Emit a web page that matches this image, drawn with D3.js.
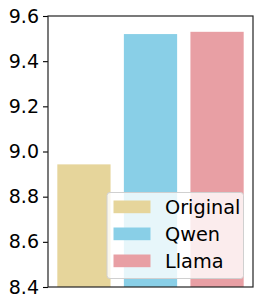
<!DOCTYPE html>
<html lang="en">
<head>
<meta charset="utf-8" />
<script src="https://cdnjs.cloudflare.com/ajax/libs/d3/7.8.5/d3.min.js"></script>
<style>
    body { margin: 0; background: #fff; }
    svg text { font-family: 'DejaVu Sans', sans-serif; fill: #000; }
</style>
</head>
<body>
<div id="chart"></div>
<script>
    // chart data
    var models = ['Original', 'Qwen', 'Llama'];
    var scores = [8.943, 9.520, 9.530];
    var colors = ['#E6D59B', '#89CFE7', '#E89FA4'];
    var yTicks = [8.4, 8.6, 8.8, 9.0, 9.2, 9.4, 9.6];

    var width = 262, height = 308;
    var margins = { top: 16, left: 48, right: 9, bottom: 21 };
    var innerWidth = width - margins.left - margins.right;
    var innerHeight = height - margins.top - margins.bottom;

    var svg = d3.select('#chart').append('svg')
        .attr('width', width)
        .attr('height', height);
    var g = svg.append('g')
        .attr('transform', 'translate(' + margins.left + ',' + margins.top + ')');

    // matplotlib-like positions: bars at 0,1,2 with width 0.8 and 5% margins
    var x = d3.scaleLinear()
        .domain([-0.54, 2.54])
        .range([0, innerWidth]);
    var y = d3.scaleLinear()
        .domain([8.4, 9.6])
        .range([innerHeight, 0]);

    g.selectAll('rect.bar')
        .data(scores)
        .enter()
        .append('rect')
        .attr('class', 'bar')
        .attr('x', function (d, i) { return x(i - 0.4); })
        .attr('width', function (d, i) { return x(i + 0.4) - x(i - 0.4); })
        .attr('y', function (d) { return y(d); })
        .attr('height', function (d) { return innerHeight - y(d); })
        .attr('fill', function (d, i) { return colors[i]; });

    var yAxis = g.append('g')
        .call(d3.axisLeft(y).tickValues(yTicks).tickFormat(d3.format('.1f')).tickSize(5).tickPadding(4));
    yAxis.select('.domain').remove();
    yAxis.selectAll('line').attr('stroke', '#000').attr('stroke-width', 1.1);
    yAxis.selectAll('text').style('font-size', '19px');

    // frame
    g.append('rect')
        .attr('x', 0).attr('y', 0)
        .attr('width', innerWidth).attr('height', innerHeight)
        .attr('fill', 'none')
        .attr('stroke', '#222')
        .attr('stroke-width', 1.2);

    // legend
    var legend = svg.append('g').attr('transform', 'translate(107,192.5)');
    legend.append('rect')
        .attr('width', 136.5).attr('height', 86)
        .attr('rx', 3)
        .attr('fill', 'rgba(255,255,255,0.8)')
        .attr('stroke', '#d0d0d0')
        .attr('stroke-width', 1);
    var items = legend.selectAll('g.item')
        .data(models)
        .enter()
        .append('g')
        .attr('class', 'item')
        .attr('transform', function (d, i) { return 'translate(0,' + (8 + i * 27) + ')'; });
    items.append('rect')
        .attr('x', 6.5).attr('width', 37).attr('height', 12.7)
        .attr('fill', function (d, i) { return colors[i]; });
    items.append('text')
        .attr('x', 58).attr('y', 6.5)
        .attr('dy', '0.36em')
        .style('font-size', '19.3px')
        .text(function (d) { return d; });
</script>
</body>
</html>
